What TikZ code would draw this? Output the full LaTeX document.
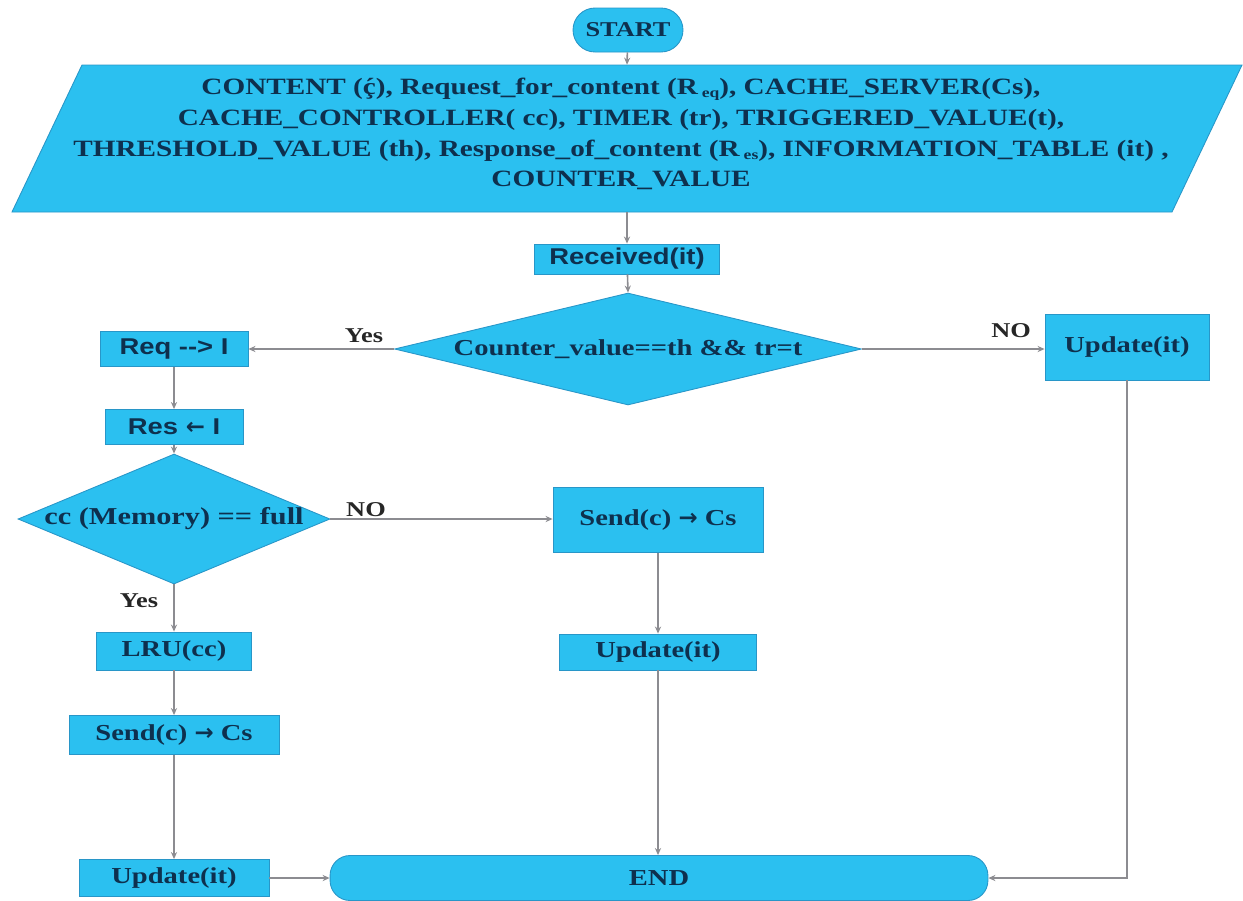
\documentclass[tikz,border=0pt]{standalone}
\usepackage{fontspec}
\setmainfont{Liberation Serif}[FakeStretch=1.25]
\newfontfamily\arialf{Liberation Sans}[FakeStretch=1.2]
\newfontfamily\symf{DejaVu Sans}
\usetikzlibrary{shapes.geometric,arrows.meta}

\definecolor{boxblue}{RGB}{43,192,240}
\definecolor{edgeblue}{RGB}{40,150,200}
\definecolor{inkblue}{RGB}{14,48,78}
\definecolor{linegray}{RGB}{140,140,145}

\newcommand{\lowsub}[1]{\,\raisebox{-0.3ex}{\fontsize{8}{8}\selectfont #1}}
\newcommand{\heavyto}{{\symf\bfseries →}}
\newcommand{\heavyfrom}{{\symf\bfseries ←}}

\tikzset{
  blk/.style={draw=edgeblue, fill=boxblue, line width=0.5pt, text=inkblue,
    inner sep=0pt, font=\bfseries\fontsize{13}{15}\selectfont},
  sblk/.style={blk, font=\arialf\bfseries\fontsize{13}{15}\selectfont},
  decision/.style={blk, diamond, aspect=4},
  arr/.style={draw=linegray, line width=0.9pt, -{Stealth[length=4pt,width=3.5pt]}},
  lbl/.style={text=black!85, font=\bfseries\fontsize{12}{14}\selectfont, inner sep=1pt}
}

\begin{document}
\begin{tikzpicture}[x=0.02cm, y=-0.02cm]
\useasboundingbox (0,0) rectangle (1243,900);

% start terminal
\node[blk, rounded corners=0.44cm, minimum width=2.2cm, minimum height=0.88cm,
      font=\bfseries\fontsize{12}{14}\selectfont] (start) at (628,30) {START};

% input parallelogram
\draw[draw=edgeblue, fill=boxblue, line width=0.5pt]
  (82,65) -- (1242,65) -- (1172,212) -- (12,212) -- cycle;
\node[minimum width=20cm, minimum height=2.94cm, inner sep=0pt] (para) at (627,138.5) {};
\node[text=inkblue, align=center, inner sep=0pt,
      font=\bfseries\fontsize{13.3}{17.6}\selectfont] (paratext) at (621,134)
 {CONTENT (ḉ), Request\_for\_content (R\lowsub{eq}), CACHE\_SERVER(Cs),\\
  CACHE\_CONTROLLER( cc), TIMER (tr), TRIGGERED\_VALUE(t),\\
  THRESHOLD\_VALUE (th), Response\_of\_content (R\lowsub{es}), INFORMATION\_TABLE (it) ,\\
  COUNTER\_VALUE};

\node[sblk, minimum width=3.7cm, minimum height=0.6cm] (recv) at (627,259) {Received(it)};

\node[decision, minimum width=9.34cm, minimum height=2.24cm] (dec1) at (628,349)
  {Counter\_value==th \&\& tr=t};

\node[sblk, minimum width=2.96cm, minimum height=0.7cm] (reqI) at (174,349) {Req --> I};
\node[blk, minimum width=3.28cm, minimum height=1.32cm] (upR) at (1127,347) {Update(it)};
\node[sblk, minimum width=2.76cm, minimum height=0.7cm] (resI) at (174,427) {Res \heavyfrom\ I};

% memory check: diamond outline with its condition set on top
\node[decision, minimum width=6.24cm, minimum height=2.6cm] (dec2) at (174,519) {};
\node[text=inkblue, inner sep=0pt, font=\bfseries\fontsize{13.8}{15}\selectfont]
  (dec2text) at (dec2.center) {cc (Memory) == full};

\node[blk, minimum width=4.2cm, minimum height=1.3cm] (sendM) at (658,520) {Send(c) \heavyto\ Cs};
\node[blk, minimum width=3.94cm, minimum height=0.72cm] (upM) at (658,652) {Update(it)};

\node[blk, minimum width=3.1cm, minimum height=0.76cm] (lru) at (174,651) {LRU(cc)};
\node[blk, minimum width=4.2cm, minimum height=0.78cm] (sendL) at (174,735) {Send(c) \heavyto\ Cs};
\node[blk, minimum width=3.8cm, minimum height=0.74cm] (upBL) at (174,878) {Update(it)};

% end terminal
\node[blk, rounded corners=0.4cm, minimum width=13.16cm, minimum height=0.9cm] (endn) at (659,878) {END};

% connectors
\draw[arr] (start) -- (para.north);
\draw[arr] (para.south) -- (recv.north);
\draw[arr] (recv) -- (dec1.north);
\draw[arr] (dec1.west) -- (reqI.east);
\draw[arr] (dec1.east) -- (dec1.east -| upR.west);
\draw[arr] (reqI) -- (resI);
\draw[arr] (resI) -- (dec2.north);
\draw[arr] (dec2.east) -- (dec2.east -| sendM.west);
\draw[arr] (dec2.south) -- (lru.north);
\draw[arr] (lru) -- (sendL);
\draw[arr] (sendL) -- (upBL);
\draw[arr] (upBL) -- (endn.west);
\draw[arr] (sendM) -- (upM);
\draw[arr] (upM.south) -- (upM.south |- endn.north);
\draw[arr] (upR.south) |- (endn.east);

% branch labels
\node[lbl] (yes1) at (364,336) {Yes};
\node[lbl] (no1) at (1011,331) {NO};
\node[lbl] (no2) at (366,510) {NO};
\node[lbl] (yes2) at (139,601) {Yes};
\end{tikzpicture}
\end{document}
